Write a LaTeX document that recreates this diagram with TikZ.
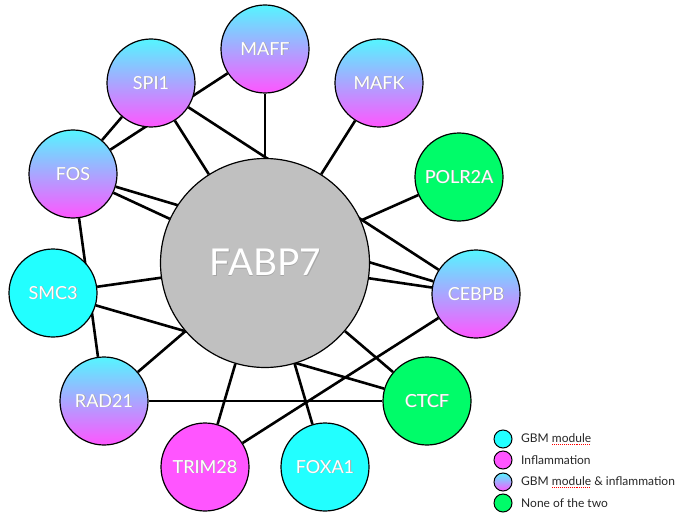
\documentclass[tikz,border=0pt]{standalone}
\usepackage{fontspec}
\setmainfont{Lato}
\usepackage{tikz}
\usetikzlibrary{backgrounds}

\definecolor{gbmcol}{RGB}{34,255,255}
\definecolor{inflcol}{RGB}{255,85,255}
\definecolor{nonecol}{RGB}{0,252,105}
\definecolor{hubgray}{RGB}{192,192,192}
\definecolor{topcyan}{RGB}{85,245,255}

\newsavebox{\wordbox}
\newcommand{\gltext}[1]{\rlap{\textcolor{black!35}{\kern0.8pt\lower0.8pt\hbox{#1}}}#1}
\newcommand{\spellmark}[1]{\sbox{\wordbox}{#1}\rlap{\lower2.4pt\hbox to\wd\wordbox{\color{red}\xleaders\hbox{\rule{1pt}{0.8pt}\kern0.9pt}\hfil}}\usebox{\wordbox}}

\tikzset{
  gene/.style={circle, draw=black, line width=1.2pt, minimum size=88pt, inner sep=0pt,
               text=white, font=\fontsize{18}{20}\selectfont},
  gbm/.style={gene, fill=gbmcol},
  infl/.style={gene, fill=inflcol},
  both/.style={gene, top color=topcyan, bottom color=inflcol},
  nonemod/.style={gene, fill=nonecol},
  hub/.style={gene, fill=hubgray, minimum size=209pt, font=\fontsize{37}{40}\selectfont},
  edge/.style={line width=2.6pt, black},
  keydot/.style={circle, draw=black, line width=1pt, minimum size=18pt, inner sep=0pt},
  keytext/.style={anchor=west, inner sep=0pt, text=black!85, font=\fontsize{12}{14}\selectfont}
}

\begin{document}
\begin{tikzpicture}[x=1pt, y=-1pt]
    \useasboundingbox (0,0) rectangle (676,513);

    \node[hub] (fabp) at (265,263) {\gltext{FABP7}};

    \node[both] (maff) at (265,49) {\gltext{MAFF}};
    \node[both] (spi) at (151,83) {\gltext{SPI1}};
    \node[both] (mafk) at (379,83) {\gltext{MAFK}};
    \node[both] (fos) at (73,174) {\gltext{FOS}};
    \node[nonemod] (polr) at (459,177) {\gltext{POLR2A}};
    \node[gbm] (smc) at (53,293) {\gltext{SMC3}};
    \node[both] (cebpb) at (476,294) {\gltext{CEBPB}};
    \node[both] (rad) at (104,401) {\gltext{RAD21}};
    \node[nonemod] (ctcf) at (427,401) {\gltext{CTCF}};
    \node[infl] (trim) at (205,467) {\gltext{TRIM28}};
    \node[gbm] (foxa) at (325,467) {\gltext{FOXA1}};

    \begin{scope}[on background layer]
        \draw[edge] (fabp) -- (maff);
        \draw[edge] (fabp) -- (spi);
        \draw[edge] (fabp) -- (mafk);
        \draw[edge] (fabp) -- (polr);
        \draw[edge] (fabp) -- (cebpb);
        \draw[edge] (fabp) -- (fos);
        \draw[edge] (fabp) -- (smc);
        \draw[edge] (fabp) -- (rad);
        \draw[edge] (fabp) -- (trim);
        \draw[edge] (fabp) -- (foxa);
        \draw[edge] (fabp) -- (ctcf);
        \draw[edge] (spi) -- (cebpb);
        \draw[edge] (fos) -- (cebpb);
        \draw[edge] (fos) -- (maff);
        \draw[edge] (fos) -- (spi);
        \draw[edge] (fos) -- (rad);
        \draw[edge] (smc) -- (ctcf);
        \draw[edge] (rad) -- (ctcf);
        \draw[edge] (cebpb) -- (trim);
    \end{scope}

    \node[keydot, fill=gbmcol] (k1) at (503,439) {};
    \node[keydot, fill=inflcol] (k2) at (503,460) {};
    \node[keydot, top color=topcyan, bottom color=inflcol] (k3) at (503,482) {};
    \node[keydot, fill=nonecol] (k4) at (503,503) {};
    \node[keytext] (t1) at (521,439) {GBM \spellmark{module}};
    \node[keytext] (t2) at (521,460) {Inflammation};
    \node[keytext] (t3) at (521,482) {GBM \spellmark{module} \& inflammation};
    \node[keytext] (t4) at (521,503) {None of the two};
\end{tikzpicture}
\end{document}
